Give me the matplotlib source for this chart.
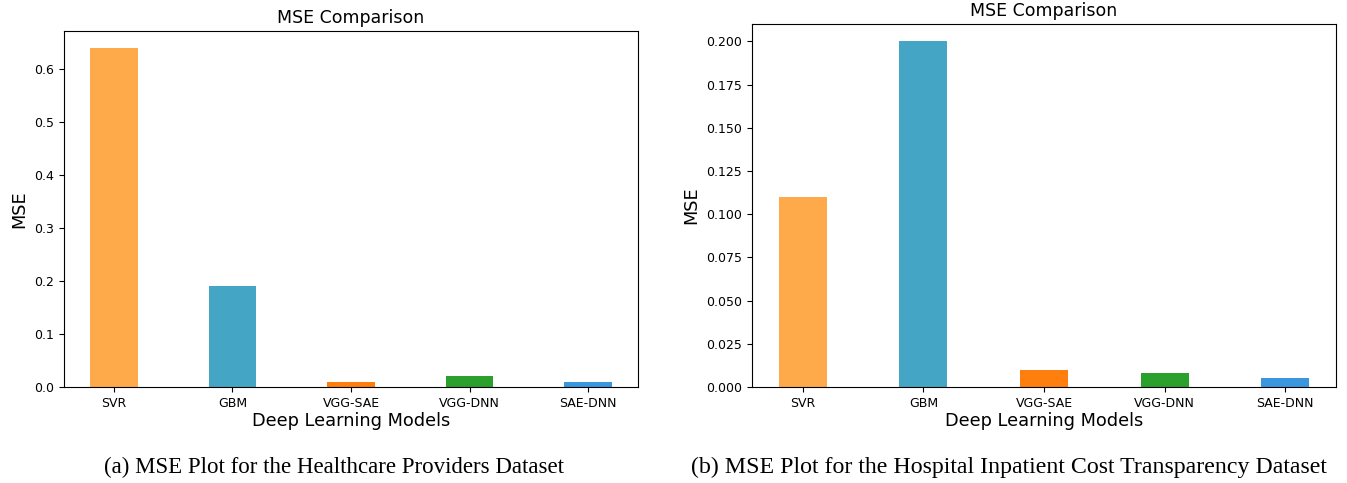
import numpy as np
import matplotlib.pyplot as plt

models = ['SVR', 'GBM', 'VGG-SAE', 'VGG-DNN', 'SAE-DNN']
mse_providers = [0.64, 0.19, 0.01, 0.02, 0.01]
mse_inpatient = [0.11, 0.20, 0.01, 0.008, 0.005]
bar_colors = ['#FFAA4A', '#44A5C4', '#FF7F0E', '#2CA02C', '#3A96DD']
captions = ['(a) MSE Plot for the Healthcare Providers Dataset',
            '(b) MSE Plot for the Hospital Inpatient Cost Transparency Dataset']

W, H = 1347, 483
fig = plt.figure(figsize=(W / 100, H / 100), dpi=100)

# axes boxes in pixels: left, bottom, width, height
boxes = [(64, 96, 574, 356), (752, 96, 584, 363)]
caption_x = [334, 1009]
caption_size = [16.5, 17.2]
datasets = [mse_providers, mse_inpatient]

for (l, b, w, h), vals, cap, cx, cs in zip(boxes, datasets, captions, caption_x, caption_size):
    ax = fig.add_axes([l / W, b / H, w / W, h / H])
    ax.bar(models, vals, color=bar_colors, width=0.4)
    ax.set_title('MSE Comparison', fontsize=12.5)
    ax.set_xlabel('Deep Learning Models', fontsize=12.8, labelpad=2)
    ax.set_ylabel('MSE', fontsize=12.8)
    ax.tick_params(labelsize=9)
    if vals is mse_inpatient:
        ax.yaxis.set_major_formatter(plt.FormatStrFormatter('%.3f'))
    fig.text(cx / W, 1 - 467 / H, cap, ha='center', va='center',
             family='Liberation Serif', fontsize=cs)

fig.savefig('out.png', dpi=100)
